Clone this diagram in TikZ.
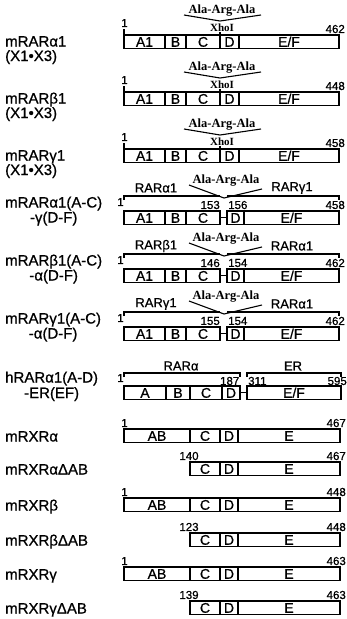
\documentclass[tikz,border=0pt]{standalone}
\usepackage{fontspec}
\setmainfont{Liberation Sans}[FakeBold=0.8]
\newfontfamily\alafont{Liberation Serif Bold}
\tikzset{
  seg/.style={draw, line width=1.3pt, rectangle, inner sep=0pt, outer sep=0pt, minimum height=13.5pt, anchor=north west, text height=10pt, text depth=0pt, font=\fontsize{14}{14}\selectfont},
  lbl/.style={anchor=base west, inner sep=0pt, font=\fontsize{15}{15}\selectfont},
  num/.style={inner sep=0pt, font=\fontsize{11.5}{11.5}\selectfont},
  ala/.style={anchor=base, inner sep=0pt, font=\alafont\fontsize{12.5}{12.5}\selectfont},
  rar/.style={inner sep=0pt, font=\fontsize{13}{13}\selectfont},
  ln/.style={line width=1.1pt},
}
\newcommand\segm[5]{\node[seg, minimum width={#3-#2}] (#1) at (#2,#4) {#5};}
% rows 1-3: XhoI constructs
\newcommand\xrow[5]{% #1 prefix, #2 T, #3 name line 1, #4 line 2, #5 end number
  \segm{#1a}{124}{165}{#2}{A1}
  \segm{#1b}{165}{186}{#2}{B}
  \segm{#1c}{186}{220}{#2}{C}
  \segm{#1d}{220}{239}{#2}{D}
  \segm{#1e}{239}{339}{#2}{E/F}
  \node[ala] (#1ala) at (222,#2-22) {Ala-Arg-Ala};
  \coordinate (#1vl) at (184,#2-20);
  \coordinate (#1vm) at (220,#2-14);
  \coordinate (#1vr) at (261,#2-20);
  \draw[ln] (#1vl) -- (#1vm) -- (#1vr);
  \node[ala, font=\alafont\fontsize{11}{11}\selectfont] (#1xho) at (222,#2-4) {XhoI};
  \draw[ln] (#1d.north west) -- ++(0,-3);
  \draw[ln] (#1a.north west) -- ++(0,-6);
  \node[num] (#1n1) at (124.5,#2-12) {1};
  \node[num, anchor=east] (#1n2) at (345,#2-6) {#5};
  \node[lbl] (#1l1) at (5,#2+11.5) {#3};
  \node[lbl] (#1l2) at (5,#2+26) {#4};
}
% rows 4-6: chimeras
\newcommand\crow[9]{% #1 prefix, #2 T, #3 line1, #4 line2, #5 left RAR, #6 right RAR, #7 n left, #8 n right, #9 end
  \segm{#1a}{124}{165}{#2}{A1}
  \segm{#1b}{165}{186}{#2}{B}
  \segm{#1c}{186}{220}{#2}{C}
  \segm{#1d}{227}{244}{#2}{D}
  \segm{#1e}{244}{339}{#2}{E/F}
  \draw[ln] (#1c.east) -- (#1d.west);
  \node[ala] (#1ala) at (226,#2-28) {Ala-Arg-Ala};
  \coordinate (#1vl) at (189,#2-26);
  \coordinate (#1vm) at (224,#2-13);
  \coordinate (#1vr) at (262,#2-22);
  \draw[ln] (#1vl) -- (#1vm) -- (#1vr);
  \node[rar] (#1ra) at (156,#2-23) {#5};
  \node[rar] (#1rb) at (292,#2-23) {#6};
  \draw[ln] (#1a.north west) ++(0,-11) -- ++(0,-4) -| ([yshift=15pt]#1c.north east);
  \draw[ln] ([yshift=15pt]#1d.north west) -- ([yshift=15pt]#1e.north east) -- ++(0,4);
  \node[num] (#1n1) at (120.5,#2-9) {1};
  \node[num, anchor=east] (#1n2) at (220,#2-6) {#7};
  \node[num, anchor=west] (#1n3) at (228,#2-6) {#8};
  \node[num, anchor=east] (#1n4) at (345,#2-6) {#9};
  \node[lbl] (#1l1) at (5,#2-3.5) {#3};
  \node[lbl, anchor=base] (#1l2) at ([yshift=-15pt]#1l1.base) {#4};
}
% RXR rows
\newcommand\rxfull[4]{% prefix, T, name, end
  \segm{#1a}{124}{190}{#2}{AB}
  \segm{#1c}{190}{220}{#2}{C}
  \segm{#1d}{220}{238}{#2}{D}
  \segm{#1e}{238}{340}{#2}{E}
  \node[num] (#1n1) at (124.5,#2-6) {1};
  \node[num, anchor=east] (#1n2) at (346,#2-6) {#4};
  \node[lbl] (#1l) at (5,#2+12.5) {#3};
}
\newcommand\rxdel[5]{% prefix, T, name, start, end
  \segm{#1c}{190}{220}{#2}{C}
  \segm{#1d}{220}{238}{#2}{D}
  \segm{#1e}{238}{340}{#2}{E}
  \node[num] (#1n1) at (189,#2-6) {#4};
  \node[num, anchor=east] (#1n2) at (346,#2-6) {#5};
  \node[lbl] (#1l) at (5,#2+12.5) {#3};
}
\begin{document}
\begin{tikzpicture}[x=1pt,y=-1pt]
\useasboundingbox (0,0) rectangle (347,619);
\xrow{ra}{35}{mRARα1}{(X1•X3)}{462}
\xrow{rb}{92}{mRARβ1}{(X1•X3)}{448}
\xrow{rg}{149}{mRARγ1}{(X1•X3)}{458}
\crow{ca}{211}{mRARα1(A-C)}{-γ(D-F)}{RARα1}{RARγ1}{153}{156}{458}
\crow{cb}{269}{mRARβ1(A-C)}{-α(D-F)}{RARβ1}{RARα1}{146}{154}{462}
\crow{cg}{327}{mRARγ1(A-C)}{-α(D-F)}{RARγ1}{RARα1}{155}{154}{462}
% hRAR-ER  (T = 386)
\segm{hra}{124}{166}{386}{A}
\segm{hrb}{166}{190}{386}{B}
\segm{hrc}{190}{222}{386}{C}
\segm{hrd}{222}{240}{386}{D}
\segm{hre}{247}{341}{386}{E/F}
\draw[ln] (hrd.east) -- (hre.west);
\draw[ln] ([yshift=9pt]hra.north west) -- ++(0,-4) -| ([yshift=9pt]hrd.north east);
\draw[ln] ([yshift=9pt]hre.north west) -- ++(0,-4) -| ([yshift=9pt]hre.north east);
\node[rar] (hrl) at (181,366) {RARα};
\node[rar] (hrr) at (293,366) {ER};
\node[num] (hrn1) at (120.5,378) {1};
\node[num, anchor=east] (hrn2) at (239.5,381) {187};
\node[num, anchor=west] (hrn3) at (248,381) {311};
\node[num, anchor=east] (hrn4) at (347,381) {595};
\node[lbl] (hrl1) at (5,382.5) {hRARα1(A-D)};
\node[lbl, anchor=base] (hrl2) at ([yshift=-15.5pt]hrl1.base) {-ER(EF)};
% RXR
\rxfull{xa}{429}{mRXRα}{467}
\rxdel{xad}{462}{mRXRαΔAB}{140}{467}
\rxfull{xb}{498}{mRXRβ}{448}
\rxdel{xbd}{533}{mRXRβΔAB}{123}{448}
\rxfull{xg}{567}{mRXRγ}{463}
\rxdel{xgd}{601}{mRXRγΔAB}{139}{463}
\end{tikzpicture}
\end{document}
